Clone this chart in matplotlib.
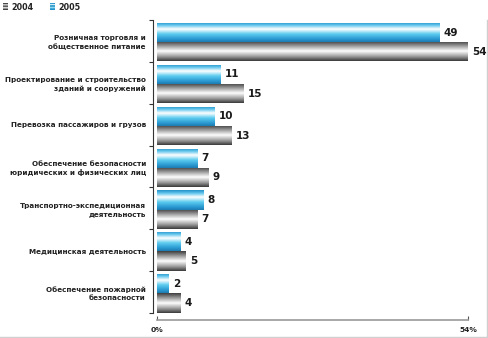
import numpy as np
import matplotlib
matplotlib.use("Agg")
import matplotlib.pyplot as plt
from matplotlib.colors import LinearSegmentedColormap
from matplotlib.lines import Line2D

categories = [
    "Розничная торговля и\nобщественное питание",
    "Проектирование и строительство\nзданий и сооружений",
    "Перевозка пассажиров и грузов",
    "Обеспечение безопасности\nюридических и физических лиц",
    "Транспортно-экспедиционная\nдеятельность",
    "Медицинская деятельность",
    "Обеспечение пожарной\nбезопасности",
]
values_2005 = [49, 11, 10, 7, 8, 4, 2]
values_2004 = [54, 15, 13, 9, 7, 5, 4]
series_labels = ["2004", "2005"]
x_ticks = [0, 54]
x_tick_labels = ["0%", "54%"]

W, H = 489, 338
fig = plt.figure(figsize=(W / 100, H / 100), dpi=100)
ax = fig.add_axes([157 / W, 1 - 313 / H, (468 - 157) / W, (313 - 20) / H])

blue_cmap = LinearSegmentedColormap.from_list(
    "blue_tube",
    [(0.0, "#2390c8"), (0.15, "#62c6ec"), (0.35, "#ffffff"),
     (0.6, "#5ccbef"), (0.85, "#2a9ad2"), (1.0, "#1c7bb0")])
gray_cmap = LinearSegmentedColormap.from_list(
    "gray_tube",
    [(0.0, "#3e3e3e"), (0.2, "#8c8c8c"), (0.5, "#ffffff"),
     (0.78, "#9a9a9a"), (1.0, "#3a3a3a")])
grad = np.linspace(0, 1, 64).reshape(-1, 1)

y = np.arange(len(categories))
bh = 0.46
off = 0.03
bars05 = ax.barh(y - bh / 2 + off, values_2005, height=bh, color="none", edgecolor="none")
bars04 = ax.barh(y + bh / 2 + off, values_2004, height=bh, color="none", edgecolor="none")


def shade(bars, cmap):
    for b in bars:
        x0, y0, w, h = b.get_x(), b.get_y(), b.get_width(), b.get_height()
        im = ax.imshow(grad, cmap=cmap, aspect="auto", interpolation="bilinear",
                       extent=[x0, x0 + w, y0 + h, y0], zorder=2)
        im.set_clip_path(b)


shade(bars05, blue_cmap)
shade(bars04, gray_cmap)

for bars in (bars05, bars04):
    for b in bars:
        ax.annotate(f"{b.get_width():g}", (b.get_width(), b.get_y() + b.get_height() / 2),
                    xytext=(3, 0), textcoords="offset points", ha="left", va="center",
                    fontsize=7.5, fontweight="bold", color="#1a1a1a", annotation_clip=False)

ax.set_xlim(0, 54)
ax.set_ylim(len(categories) - 0.5, -0.5)

for s in ("top", "right"):
    ax.spines[s].set_visible(False)
ax.spines["left"].set_position(("outward", 3))
ax.spines["bottom"].set_position(("outward", 5))
ax.spines["left"].set_color("#333333")
ax.spines["left"].set_linewidth(0.8)
ax.spines["bottom"].set_color("#9a9a9a")
ax.spines["bottom"].set_linewidth(1.2)

ax.set_yticks(y)
ax.set_yticklabels(categories, fontsize=5.2, fontweight="bold", color="#222222",
                   linespacing=1.4)
ax.set_yticks(np.arange(len(categories) + 1) - 0.5, minor=True)
ax.tick_params(axis="y", which="major", length=0, pad=5)
ax.tick_params(axis="y", which="minor", length=3, width=0.8, color="#333333")

ax.set_xticks(x_ticks)
ax.set_xticklabels(x_tick_labels, fontsize=5.4, fontweight="bold", color="#222222")
ax.tick_params(axis="x", direction="in", length=3, width=0.8, color="#555555", pad=5)

# legend swatches
def swatch(px, cmap):
    sax = fig.add_axes([px / W, 1 - 10 / H, 5 / W, 7 / H])
    sax.imshow(np.linspace(0, 1, 8).reshape(-1, 1) % 0.5 * 2, cmap=cmap, aspect="auto")
    sax.axis("off")


swatch(3, gray_cmap)
swatch(50, blue_cmap)
fig.text(11 / W, 1 - 7 / H, series_labels[0], fontsize=5.8, fontweight="bold",
         va="center", ha="left", color="#222222")
fig.text(58 / W, 1 - 7 / H, series_labels[1], fontsize=5.8, fontweight="bold",
         va="center", ha="left", color="#222222")

# light frame on the right and bottom edges
fig.add_artist(Line2D([487.5 / W, 487.5 / W], [0, 1 - 20 / H], color="#cfcfcf", lw=1))
fig.add_artist(Line2D([0, 487.5 / W], [1.5 / H, 1.5 / H], color="#cfcfcf", lw=1))

fig.savefig("out.png", dpi=100)
